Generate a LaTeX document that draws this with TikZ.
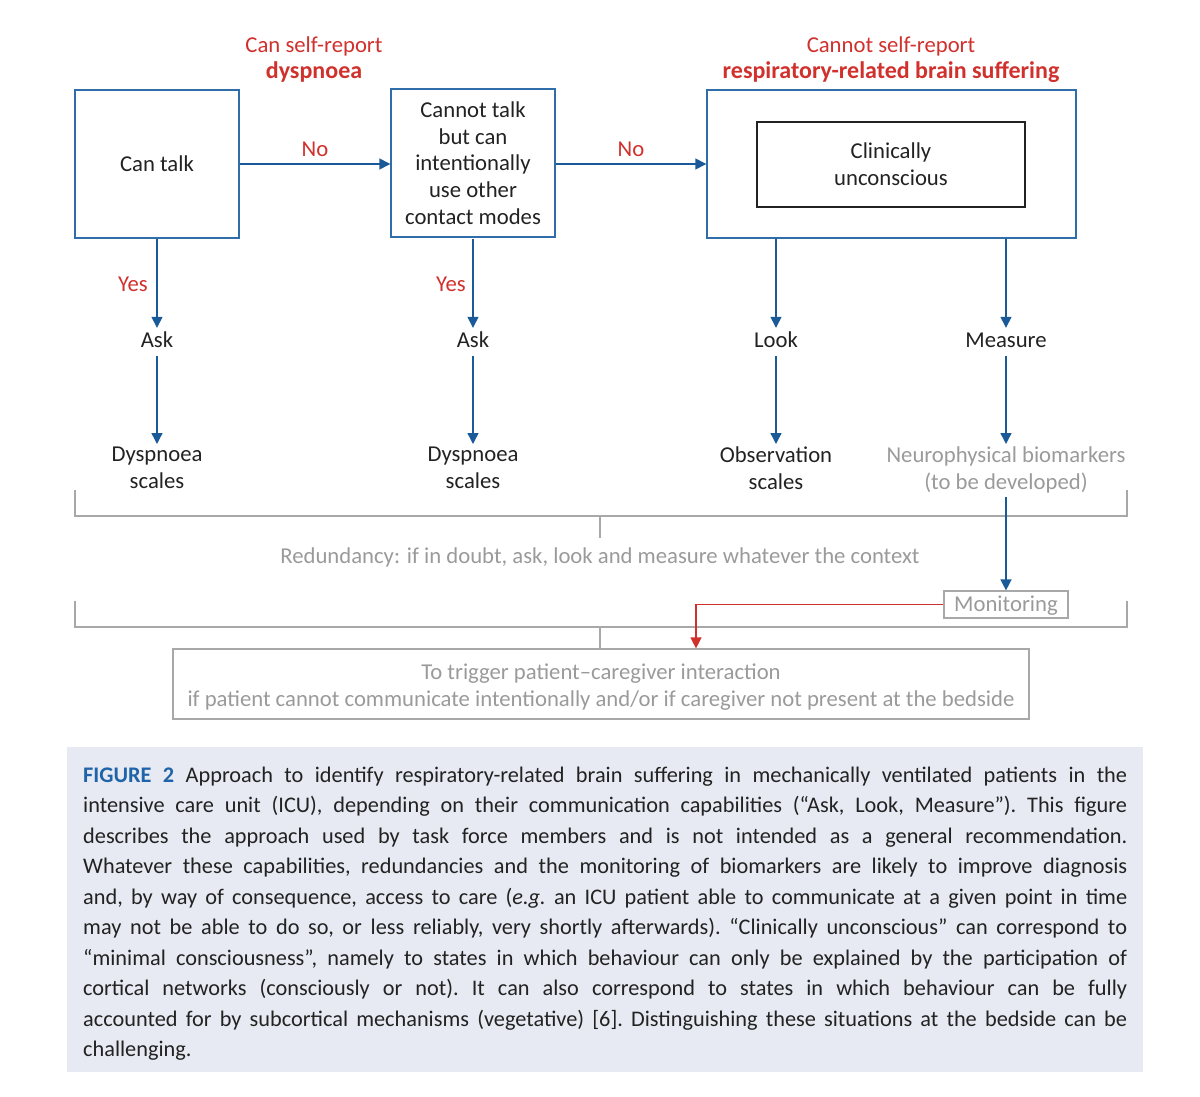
\documentclass[tikz,border=0pt]{standalone}
\usepackage{fontspec}
\setmainfont{Carlito}
\usetikzlibrary{arrows.meta}
\definecolor{boxblue}{HTML}{2F6EAA}
\definecolor{arrblue}{HTML}{1B5A99}
\definecolor{redc}{HTML}{D0312D}
\definecolor{greyt}{HTML}{9A9A9A}
\definecolor{greyl}{HTML}{A8A8A8}
\definecolor{txt}{HTML}{222222}
\definecolor{capbg}{HTML}{E7EAF2}
\definecolor{figblue}{HTML}{1F63A8}
\newcommand{\dfont}{\fontsize{22.7}{26.7}\selectfont}
\newcommand{\hbfont}{\fontsize{24}{26.7}\selectfont\bfseries}
\newcommand{\cfont}{\fontsize{22.3}{30.5}\selectfont\frenchspacing}
\newcommand{\capline}[1]{\hbox to 1044pt{\spaceskip=0.24em plus 0.6em minus 0.06em\xspaceskip=\spaceskip #1}}
\tikzset{
  fbox/.style={draw=boxblue, line width=1.4pt, minimum height=148pt, align=center, text=txt, font=\dfont, inner sep=0pt},
  ibox/.style={draw=txt, line width=1.4pt, minimum width=268pt, minimum height=85pt, align=center, text=txt, font=\dfont, inner sep=0pt},
  lab/.style={text=redc, font=\dfont, inner sep=1pt},
  head/.style={text=redc, font=\dfont, inner sep=0pt, anchor=base},
  word/.style={text=txt, font=\dfont, text height=14pt, text depth=4pt, inner sep=5pt, anchor=base},
  res/.style={text=txt, font=\dfont, align=center, inner sep=3pt, anchor=north},
  gres/.style={res, text=greyt},
  arr/.style={draw=arrblue, line width=1.4pt, -{Triangle[width=11pt,length=11pt]}},
  redarr/.style={draw=redc, line width=1.3pt, -{Triangle[width=11pt,length=11pt]}},
  gline/.style={draw=greyl, line width=1.2pt},
  gbox/.style={draw=greyl, line width=1.2pt, text=greyt, font=\dfont, align=center, inner sep=0pt},
}
\begin{document}
\begin{tikzpicture}[x=1pt,y=-1pt]
\useasboundingbox (0,0) rectangle (1200,1096);
% headers
\node[head] (h1a) at (314,52) {Can self-report};
\node[head, font=\hbfont] (h1b) at (314,78) {dyspnoea};
\node[head] (h2a) at (891,52) {Cannot self-report};
\node[head, font=\hbfont] (h2b) at (891,78) {respiratory-related brain suffering};
% top boxes
\node[fbox, minimum width=164pt] (talk) at (157,164) {Can talk};
\node[fbox, minimum width=164pt] (cont) at (473,163) {Cannot talk\\but can\\intentionally\\use other\\contact modes};
\node[fbox, minimum width=369pt] (nself) at (891.5,164) {};
\node[ibox] (uncon) at (891,164.5) {Clinically\\unconscious};
\draw[arr] (talk) -- (cont.west |- talk) node[lab, pos=0.5, above=6pt] (no1) {No};
\draw[arr] (cont.east |- talk) -- (nself) node[lab, pos=0.5, above=6pt] (no2) {No};
% middle words
\node[word] (ask1) at (157,347) {Ask};
\node[word] (ask2) at (473,347) {Ask};
\node[word] (look) at (776,347) {Look};
\node[word] (meas) at (1006,347) {Measure};
\draw[arr] (talk.south) -- (ask1.north);
\draw[arr] (ask2 |- nself.south) -- (ask2.north);
\draw[arr] (look |- nself.south) -- (look.north);
\draw[arr] (meas |- nself.south) -- (meas.north);
\node[lab] (yes1) at (133,284) {Yes};
\node[lab] (yes2) at (451,284) {Yes};
% results
\node[res] (dys1) at (157,444) {Dyspnoea\\scales};
\node[res] (dys2) at (473,444) {Dyspnoea\\scales};
\node[res] (obs) at (776,444) {Observation\\scales};
\node[gres] (neuro) at (1006,444) {Neurophysical biomarkers\\(to be developed)};
\draw[arr] (ask1.south) -- (dys1.north);
\draw[arr] (ask2.south) -- (dys2.north);
\draw[arr] (look.south) -- (obs.north);
\draw[arr] (meas.south) -- (neuro.north);
% redundancy bracket
\draw[gline] (75,490) -- (75,516) -- (1127,516) -- (1127,490);
\draw[gline] (600,516) -- (600,538);
\node[text=greyt, font=\dfont, inner sep=0pt] (redund) at (600,557) {Redundancy: if in doubt, ask, look and measure whatever the context};
% monitoring
\node[gbox, minimum width=124pt, minimum height=27pt] (mon) at (1006,604.5) {\rule{0pt}{17pt}Monitoring};
\draw[arr] (neuro.south) -- (mon.north);
\draw[gline] (75,601) -- (75,627) -- (1127,627) -- (1127,601);
\node[gbox, minimum width=856pt, minimum height=70pt] (bot) at (601,684) {\rule{0pt}{22pt}To trigger patient--caregiver interaction\\if patient cannot communicate intentionally and/or if caregiver not present at the bedside};
\coordinate (tick2) at (600,627);
\draw[gline] (tick2) -- (tick2 |- bot.north);
\coordinate (trig) at (696,640);
\draw[redarr] (mon.west) -| (trig |- bot.north);
% caption
\fill[capbg] (67,747) rectangle (1143,1072);
\node[anchor=base west, inner sep=0pt, text width=1044pt, font=\cfont, text=txt] (cap) at (83,782) {%
\capline{\textcolor{figblue}{\bfseries FIGURE 2} Approach to identify respiratory-related brain suffering in mechanically ventilated patients in the}
\capline{intensive care unit (ICU), depending on their communication capabilities (“Ask, Look, Measure”). This figure}
\capline{describes the approach used by task force members and is not intended as a general recommendation.}
\capline{Whatever these capabilities, redundancies and the monitoring of biomarkers are likely to improve diagnosis}
\capline{and, by way of consequence, access to care (\textit{e.g.} an ICU patient able to communicate at a given point in time}
\capline{may not be able to do so, or less reliably, very shortly afterwards). “Clinically unconscious” can correspond to}
\capline{“minimal consciousness”, namely to states in which behaviour can only be explained by the participation of}
\capline{cortical networks (consciously or not). It can also correspond to states in which behaviour can be fully}
\capline{accounted for by subcortical mechanisms (vegetative) [6]. Distinguishing these situations at the bedside can be}
\capline{challenging.\hfil}};
\end{tikzpicture}
\end{document}
